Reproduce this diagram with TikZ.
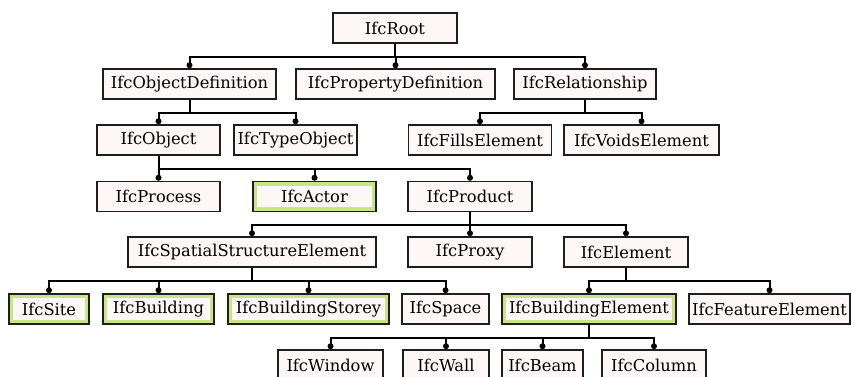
\documentclass[tikz,border=0pt]{standalone}
\usepackage{fontspec}
\setmainfont{DejaVu Serif}
\usetikzlibrary{calc}
\definecolor{boxfill}{RGB}{253,247,245}
\definecolor{boxline}{RGB}{30,30,30}
\definecolor{hlgreen}{RGB}{200,230,135}
\tikzset{
  cls/.style={draw=boxline, line width=1.5pt, fill=boxfill, inner sep=0pt,
    minimum height=30pt, font=\fontsize{16.3}{18}\selectfont, text=black},
  link/.style={draw=black, line width=2pt},
  hlbox/.style={draw=hlgreen, line width=3.2pt},
}
\newcommand{\sub}[2]{%
  \draw[link] (#1.south) -- ++(0,13) -| ($(#2.north)+(0,-3)$);
  \fill ($(#2.north)+(0,-3)$) circle (3pt);
}
\newcommand{\hlon}[1]{%
  \draw[hlbox] ($(#1.south west)+(3.3,-3.3)$) rectangle ($(#1.north east)+(-3.3,3.3)$);
}
\begin{document}
\begin{tikzpicture}[x=1pt,y=-1pt]
\useasboundingbox (0,0) rectangle (852,376);
\clip (0,0) rectangle (852,376);
\fill[white] (0,0) rectangle (852,376);
% row 1
\node[cls, minimum width=124pt] (root) at (395,28) {IfcRoot};
% row 2
\node[cls, minimum width=173pt] (objdef) at (189.5,84) {IfcObjectDefinition};
\node[cls, minimum width=199pt] (propdef) at (395.5,84) {IfcPropertyDefinition};
\node[cls, minimum width=142pt] (rel) at (585,84) {IfcRelationship};
% row 3
\node[cls, minimum width=123pt] (obj) at (158.5,140) {IfcObject};
\node[cls, minimum width=123pt] (typeobj) at (295.5,140) {IfcTypeObject};
\node[cls, minimum width=143pt] (fills) at (480,140) {IfcFillsElement};
\node[cls, minimum width=155pt] (voids) at (641.5,140) {IfcVoidsElement};
% row 4
\node[cls, minimum width=123pt] (process) at (158.5,196.5) {IfcProcess};
\node[cls, minimum width=123pt] (actor) at (314.5,196.5) {IfcActor};
\node[cls, minimum width=124pt] (product) at (470,196.5) {IfcProduct};
% row 5
\node[cls, minimum width=248pt] (sse) at (252,252) {IfcSpatialStructureElement};
\node[cls, minimum width=124pt] (proxy) at (470,252) {IfcProxy};
\node[cls, minimum width=124pt] (element) at (626,252) {IfcElement};
% row 6
\node[cls, minimum width=80pt] (site) at (49,309) {IfcSite};
\node[cls, minimum width=111pt] (building) at (158.5,309) {IfcBuilding};
\node[cls, minimum width=161pt] (storey) at (308.5,309) {IfcBuildingStorey};
\node[cls, minimum width=87pt] (space) at (445.5,309) {IfcSpace};
\node[cls, minimum width=174pt] (belem) at (589,309) {IfcBuildingElement};
\node[cls, minimum width=161pt] (feature) at (769.5,309) {IfcFeatureElement};
% row 7
\node[cls, minimum width=105pt] (window) at (330.5,365) {IfcWindow};
\node[cls, minimum width=86pt] (wall) at (446,365) {IfcWall};
\node[cls, minimum width=81pt] (beam) at (542.5,365) {IfcBeam};
\node[cls, minimum width=104pt] (column) at (654,365) {IfcColumn};
% highlights
\hlon{actor}\hlon{site}\hlon{building}\hlon{storey}\hlon{belem}
% connectors
\sub{root}{objdef}\sub{root}{propdef}\sub{root}{rel}
\sub{objdef}{obj}\sub{objdef}{typeobj}
\sub{rel}{fills}\sub{rel}{voids}
\sub{obj}{process}\sub{obj}{actor}\sub{obj}{product}
\sub{product}{sse}\sub{product}{proxy}\sub{product}{element}
\sub{sse}{site}\sub{sse}{building}\sub{sse}{storey}\sub{sse}{space}
\sub{element}{belem}\sub{element}{feature}
\sub{belem}{window}\sub{belem}{wall}\sub{belem}{beam}\sub{belem}{column}
\end{tikzpicture}
\end{document}
